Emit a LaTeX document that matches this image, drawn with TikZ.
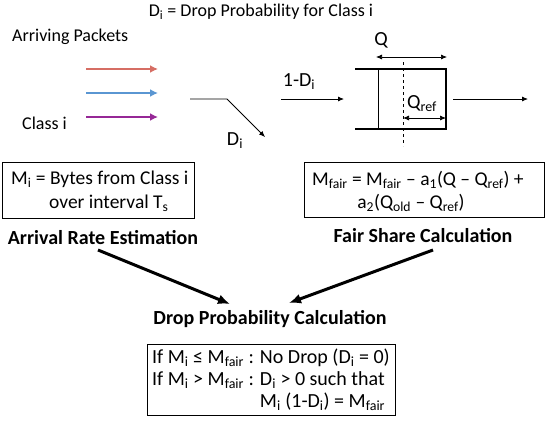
\documentclass[tikz,border=0pt]{standalone}
\usepackage{fontspec}
\setmainfont{Carlito}
\usetikzlibrary{arrows.meta,fit}
\newcommand{\sbs}[1]{\textsubscript{#1}}
\definecolor{cred}{RGB}{214,110,100}
\definecolor{cblue}{RGB}{90,150,210}
\definecolor{cpurple}{RGB}{150,40,150}
\tikzset{
  small/.style={inner sep=0pt, font=\fontsize{18}{20}\selectfont},
  txt/.style={inner sep=0pt, font=\fontsize{20}{23}\selectfont},
  boxtxt/.style={inner sep=0pt, font=\fontsize{19.5}{22}\selectfont},
  bold/.style={inner sep=0pt, font=\fontsize{20}{23}\selectfont\bfseries},
  thinarrow/.style={-{Latex[length=6pt,width=5pt]}, line width=0.8pt},
  dimarrow/.style={{Latex[length=6pt,width=5pt]}-{Latex[length=6pt,width=5pt]}, line width=0.7pt},
  colarrow/.style={-{Latex[length=8pt,width=8pt]}, line width=2.6pt},
  fatarrow/.style={-{Latex[length=12pt,width=10pt]}, line width=3pt},
  box/.style={draw, line width=0.9pt, inner sep=0pt},
  qwall/.style={line width=2.6pt},
}
\begin{document}
\begin{tikzpicture}[x=1pt,y=-1pt]
\useasboundingbox (0,0) rectangle (545,423);
% title
\node[small] (title) at (261,12) {D\sbs{i} = Drop Probability for Class i};
\node[small, anchor=west] (arr) at (12,37) {Arriving Packets};
\node[small, anchor=west] (cls) at (22,123) {Class i};
% coloured arrows
\coordinate (r1) at (86,69); \coordinate (r2) at (158,69);
\coordinate (b1) at (86,93); \coordinate (b2) at (158,93);
\coordinate (p1) at (86,117); \coordinate (p2) at (158,117);
\draw[colarrow, cred] (r1) -- (r2);
\draw[colarrow, cblue] (b1) -- (b2);
\draw[colarrow, cpurple] (p1) -- (p2);
% drop line
\coordinate (d0) at (190,99); \coordinate (d1) at (227,99); \coordinate (d2) at (265,137);
\draw[thinarrow] (d0) -- (d1) -- (d2);
\node[txt] (dlab) at (235,141) {D\sbs{i}};
% 1-D arrow
\coordinate (a0) at (281,99); \coordinate (a1) at (344,99);
\draw[thinarrow] (a0) -- (a1);
\node[txt] (one) at (299,82) {1-D\sbs{i}};
% queue
\coordinate (qtl) at (355,69); \coordinate (qtr) at (446,69);
\coordinate (qbl) at (355,129); \coordinate (qbr) at (446,129);
\draw[qwall] (qtl) -- (qtr) -- (qbr) -- (qbl);
\coordinate (it) at (378,69); \coordinate (ib) at (378,129);
\draw[line width=0.7pt] (it) -- (ib);
\coordinate (dt) at (403,62); \coordinate (db) at (403,146);
\draw[dashed, line width=0.7pt] (dt) -- (db);
\coordinate (q0) at (376,57); \coordinate (q1) at (447,57);
\draw[dimarrow] (q0) -- (q1);
\node[txt] (qlab) at (381,40) {Q};
\coordinate (qr0) at (403,118); \coordinate (qr1) at (446,118);
\draw[dimarrow] (qr0) -- (qr1);
\node[txt, anchor=west] (qrlab) at (407,104) {Q\sbs{ref}};
\coordinate (o0) at (453,99); \coordinate (o1) at (528,99);
\draw[thinarrow] (o0) -- (o1);
% box 1
\node[box, minimum width=192pt, minimum height=56pt] (b1box) at (98,190) {};
\node[boxtxt, anchor=west] (m1) at (11,179) {M\sbs{i} = Bytes from Class i};
\node[boxtxt, anchor=west] (m2) at (49,203) {over interval T\sbs{s}};
\node[bold] (are) at (103,238) {Arrival Rate Estimation};
% box 2
\node[box, minimum width=240pt, minimum height=55pt] (b2box) at (424,189.5) {};
\node[boxtxt, anchor=west] (f1) at (312,180) {M\sbs{fair} = M\sbs{fair} – a\sbs{1}(Q – Q\sbs{ref}) +};
\node[boxtxt] (f2) at (411,203) {a\sbs{2}(Q\sbs{old} – Q\sbs{ref})};
\node[bold] (fsc) at (423,236) {Fair Share Calculation};
% fat arrows
\coordinate (s1) at (98,250); \coordinate (e1) at (230,304);
\coordinate (s2) at (433,250); \coordinate (e2) at (289,303);
\draw[fatarrow] (s1) -- (e1);
\draw[fatarrow] (s2) -- (e2);
% drop probability
\node[bold] (dpc) at (270,319) {Drop Probability Calculation};
\node[txt, anchor=west] (l1) at (152,358) {If M\sbs{i} ≤ M\sbs{fair} : No Drop (D\sbs{i} = 0)};
\node[txt, anchor=west] (l2) at (152,380) {If M\sbs{i} > M\sbs{fair} : D\sbs{i} > 0 such that};
\node[txt, anchor=west] (l3) at (152,402) {\phantom{If M\sbs{i} > M\sbs{fair} : }M\sbs{i} (1-D\sbs{i}) = M\sbs{fair}};
\node[box, fit=(l1)(l2)(l3), inner xsep=5pt, inner ysep=4pt] (b3box) {};
\end{tikzpicture}
\end{document}
